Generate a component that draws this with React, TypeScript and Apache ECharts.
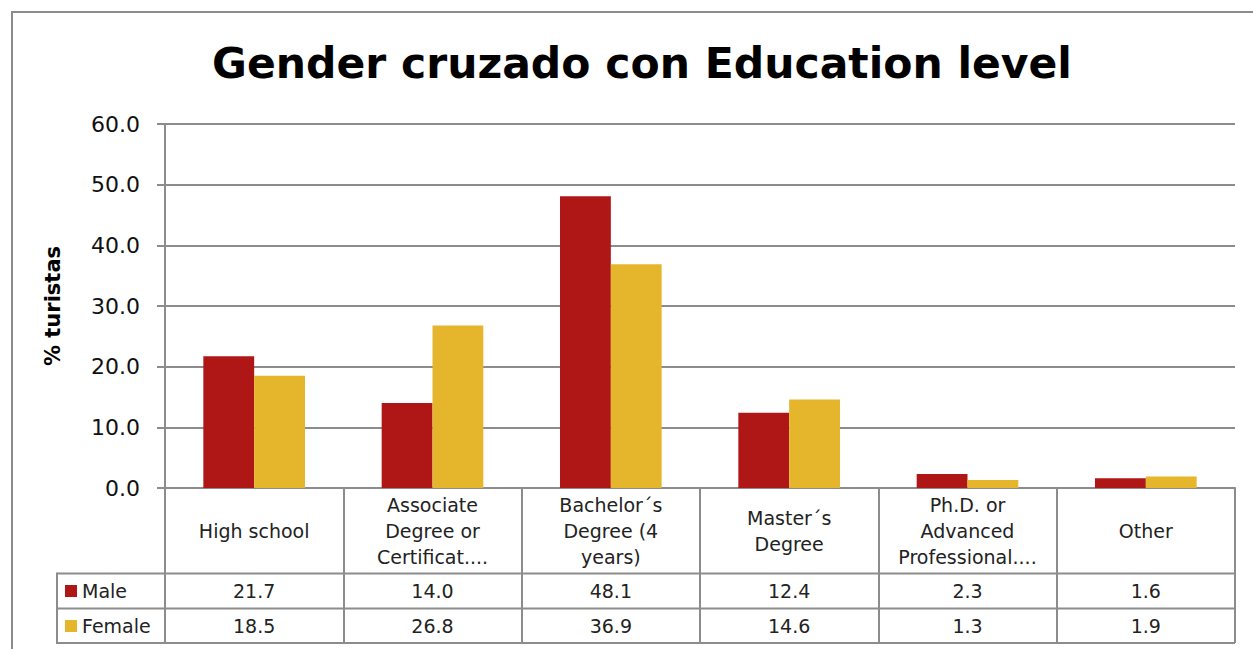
import React, { useEffect, useRef } from "react";
import * as echarts from "echarts";

const categories = [
  "High school",
  "Associate\nDegree or\nCertificat....",
  "Bachelor´s\nDegree (4\nyears)",
  "Master´s\nDegree",
  "Ph.D. or\nAdvanced\nProfessional....",
  "Other",
];
const male = [21.7, 14.0, 48.1, 12.4, 2.3, 1.6];
const female = [18.5, 26.8, 36.9, 14.6, 1.3, 1.9];
const yTicks = { min: 0, max: 60, interval: 10 };

const FONT = "DejaVu Sans";
const GRAY = "#8c8c8c";
const MALE_COLOR = "#AF1616";
const FEMALE_COLOR = "#E5B62B";

export default function App() {
  const ref = useRef<HTMLDivElement>(null);
  useEffect(() => {
    if (!ref.current) return;
    const chart = echarts.init(ref.current, null, { renderer: "svg" });
    const valueAxis = (offset: number, values: number[]) => ({
      type: "category",
      data: categories,
      gridIndex: 0,
      position: "bottom",
      offset,
      axisLine: { show: false },
      axisTick: { show: false },
      axisLabel: {
        interval: 0,
        margin: 18,
        verticalAlign: "middle",
        fontFamily: FONT,
        fontSize: 19,
        color: "#222",
        formatter: (_v: string, i: number) => values[i].toFixed(1),
      },
    });
    chart.setOption({
      animation: false,
      textStyle: { fontFamily: FONT },
      title: {
        text: "Gender cruzado con Education level",
        left: 637,
        top: 37,
        textAlign: "center",
        textStyle: { fontFamily: FONT, fontWeight: "bold", fontSize: 42.5, color: "#000" },
      },
      legend: {
        orient: "vertical",
        left: 65,
        top: 581,
        padding: 0,
        itemWidth: 12,
        itemHeight: 12,
        itemGap: 15,
        icon: "rect",
        textStyle: { fontFamily: FONT, fontSize: 19, color: "#222", lineHeight: 20 },
        data: ["Male", "Female"],
      },
      grid: { left: 165, right: 18, top: 124, bottom: 161, containLabel: false },
      xAxis: [
        {
          type: "category",
          data: categories,
          axisLine: { show: true, lineStyle: { color: GRAY, width: 2 } },
          axisTick: { show: true, length: 155, lineStyle: { color: GRAY, width: 2 } },
          axisLabel: {
            interval: 0,
            margin: 43,
            verticalAlign: "middle",
            fontFamily: FONT,
            fontSize: 19,
            lineHeight: 26,
            color: "#222",
          },
        },
        valueAxis(85, male),
        valueAxis(120, female),
      ],
      yAxis: {
        type: "value",
        min: yTicks.min,
        max: yTicks.max,
        interval: yTicks.interval,
        name: "% turistas",
        nameLocation: "middle",
        nameRotate: 90,
        nameGap: 102,
        nameTextStyle: { fontFamily: FONT, fontWeight: "bold", fontSize: 21, color: "#000" },
        axisLine: { show: true, lineStyle: { color: GRAY, width: 2 } },
        axisTick: { show: true, inside: false, length: 8, lineStyle: { color: GRAY, width: 2 } },
        splitLine: { show: true, lineStyle: { color: GRAY, width: 2 } },
        axisLabel: {
          margin: 25,
          fontFamily: FONT,
          fontSize: 22,
          color: "#111",
          formatter: (v: number) => v.toFixed(1),
        },
      },
      series: [
        {
          name: "Male",
          type: "bar",
          data: male,
          itemStyle: { color: MALE_COLOR },
          barGap: "0%",
          barCategoryGap: "43%",
        },
        {
          name: "Female",
          type: "bar",
          data: female,
          itemStyle: { color: FEMALE_COLOR },
          barGap: "0%",
          barCategoryGap: "43%",
        },
      ],
      graphic: [
        {
          type: "rect",
          shape: { x: 12, y: 12, width: 1400, height: 800 },
          style: { fill: "none", stroke: GRAY, lineWidth: 2 },
          silent: true,
        },
        { type: "line", shape: { x1: 57, y1: 573.5, x2: 1235, y2: 573.5 }, style: { stroke: GRAY, lineWidth: 2 } },
        { type: "line", shape: { x1: 57, y1: 608.5, x2: 1235, y2: 608.5 }, style: { stroke: GRAY, lineWidth: 2 } },
        { type: "line", shape: { x1: 57, y1: 643, x2: 1235, y2: 643 }, style: { stroke: GRAY, lineWidth: 2 } },
        { type: "line", shape: { x1: 57, y1: 572.5, x2: 57, y2: 644 }, style: { stroke: GRAY, lineWidth: 2 } },
      ],
    });
    return () => chart.dispose();
  }, []);
  return (
    <div
      ref={ref}
      style={{ position: "absolute", left: 0, top: 0, width: 1253, height: 649 }}
    />
  );
}
